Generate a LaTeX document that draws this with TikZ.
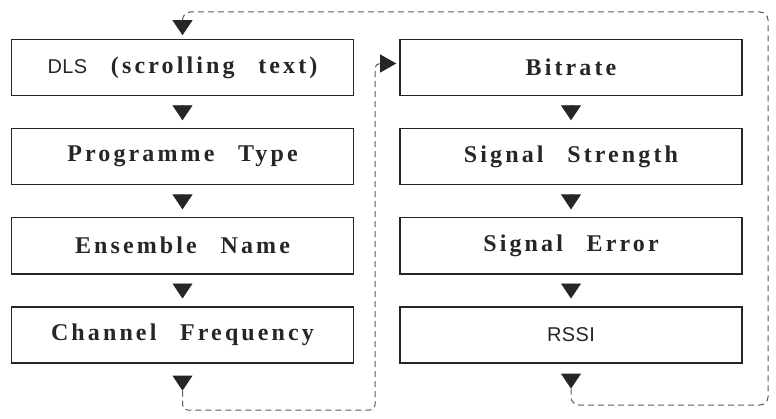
\documentclass[tikz,border=0pt]{standalone}
\usepackage{fontspec}
\setmainfont{Liberation Serif}
\newfontfamily\boxfont{Liberation Serif}[LetterSpace=13,WordSpace=2.6]
\newfontfamily\boxsans{Liberation Sans}[LetterSpace=2]
\usetikzlibrary{positioning,arrows.meta}

\begin{document}
\begin{tikzpicture}[
	main/.style={rectangle, text centered, draw=black!85, line width=0.8pt, minimum width=171pt, minimum height=28pt, text=black!85, font={\boxfont\bfseries\fontsize{12pt}{14pt}\selectfont}},
	tri/.style={-{Triangle[length=7.5pt,width=10pt]}, black!85, line width=0.4pt, shorten <=4.5pt, shorten >=3.75pt},
	back/.style={dash pattern=on 3pt off 2pt, black!65, line width=0.5pt},
	node distance=15.75pt
	]
	\useasboundingbox (0,0) rectangle (388pt,209pt);

		\node (dls) [main] at (91.25pt,175.25pt) {{\boxsans\mdseries\fontsize{10pt}{12pt}\selectfont DLS} (scrolling text)};
		\node (progtype) [main, below=of dls] {Programme Type};
		\node (ensemble) [main, below=of progtype] {Ensemble Name};
		\node (channel) [main, below=of ensemble] {Channel Frequency};

		\node (bitrate) [main] at (285.5pt,175.25pt) {Bitrate};
		\node (strength) [main, below=of bitrate] {Signal Strength};
		\node (error) [main, below=of strength] {Signal Error};
		\node (rssi) [main] [below=of error] {{\boxsans\mdseries\fontsize{10pt}{12pt}\selectfont RSSI}};

		\coordinate (channelout) at ([yshift=-13.5pt]channel.south);
		\coordinate (rssiout) at ([yshift=-12.5pt]rssi.south);
		\coordinate (channelturn) at (187.5pt,4pt);
		\coordinate (rssiturn) at (384pt,6.5pt);
		\coordinate (dlsturn) at (91.25pt,203pt);

	\draw [tri] (dls) -- (progtype);
	\draw [tri] (progtype) -- (ensemble);
	\draw [tri] (ensemble) -- (channel);
	\draw [tri, shorten <=6pt, shorten >=0pt] (channel) -- (channelout);

	\draw [tri] (bitrate) -- (strength);
	\draw [tri] (strength) -- (error);
	\draw [tri] (error) -- (rssi);
	\draw [tri, shorten <=5pt, shorten >=0pt] (rssi) -- (rssiout);

	% way back round
	\draw [back, rounded corners=2.5pt, -{Triangle[length=8pt,width=9pt,color=black!85]}, shorten >=1.5pt] (channelout) |- (channelturn) |- ([yshift=2pt]bitrate.west);
	\draw [back, rounded corners=4pt, -{Triangle[length=7.5pt,width=10pt,color=black!85]}, shorten >=1.75pt] (rssiout) |- (rssiturn) |- (dlsturn) -- (dls);

	\end{tikzpicture}
\end{document}
